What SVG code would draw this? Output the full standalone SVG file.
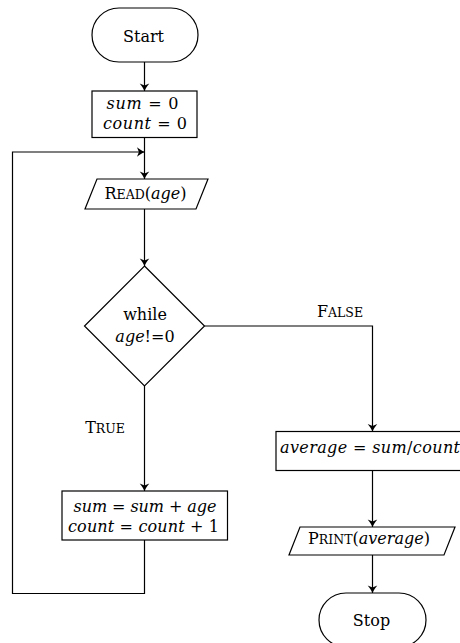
<svg xmlns="http://www.w3.org/2000/svg" width="460" height="643" viewBox="0 0 460 643">
<defs>
<style>
.sh{fill:#fff;stroke:#000;stroke-width:1.2}
.ln{fill:none;stroke:#000;stroke-width:1.2}
text{font-family:"DejaVu Serif","Liberation Serif",serif;font-size:16px;fill:#000;text-anchor:middle}
.i{font-style:italic}
.s{font-size:12.5px}
</style>
<marker id="ah" markerUnits="userSpaceOnUse" markerWidth="12" markerHeight="12" viewBox="-9 -6 10 12" refX="0" refY="0" orient="auto">
<path d="M0,0 C-2.5,-1.2 -5.5,-3 -7.5,-4.8 L-5.6,0 L-7.5,4.8 C-5.5,3 -2.5,1.2 0,0Z" fill="#000"/>
</marker>
</defs>
<g id="connectors">
<line class="ln" x1="144.5" y1="62" x2="144.5" y2="91" marker-end="url(#ah)"/>
<line class="ln" x1="144.5" y1="137.5" x2="144.5" y2="179" marker-end="url(#ah)"/>
<line class="ln" x1="144.5" y1="209" x2="144.5" y2="266" marker-end="url(#ah)"/>
<line class="ln" x1="144.5" y1="386" x2="144.5" y2="491" marker-end="url(#ah)"/>
<polyline class="ln" points="204.5,326 372.5,326 372.5,431.5" marker-end="url(#ah)"/>
<line class="ln" x1="372.5" y1="470.5" x2="372.5" y2="527" marker-end="url(#ah)"/>
<line class="ln" x1="372.5" y1="555" x2="372.5" y2="593" marker-end="url(#ah)"/>
<polyline class="ln" points="144.5,540 144.5,593.5 12.5,593.5 12.5,152 144.5,152" marker-end="url(#ah)"/>
<text x="340" y="316.5">F<tspan class="s">ALSE</tspan></text>
<text x="105" y="432.5">T<tspan class="s">RUE</tspan></text>
</g>
<g id="start">
<rect class="sh" x="92" y="8" width="106" height="54" rx="27" ry="27"/>
<text x="143.5" y="41.5">Start</text>
</g>
<g id="init">
<rect class="sh" x="92" y="91" width="105" height="46.5"/>
<text x="142.5" y="109" textLength="72" lengthAdjust="spacing"><tspan class="i">sum</tspan> = 0</text>
<text x="145" y="128.5" textLength="84" lengthAdjust="spacing"><tspan class="i">count</tspan> = 0</text>
</g>
<g id="read">
<polygon class="sh" points="97,179 208,179 196,209 85,209"/>
<text x="145.5" y="199">R<tspan class="s">EAD</tspan>(<tspan class="i">age</tspan>)</text>
</g>
<g id="decision">
<polygon class="sh" points="144.5,266 204.5,326 144.5,386 84.5,326"/>
<text x="145" y="320">while</text>
<text x="145" y="342"><tspan class="i">age</tspan>!=0</text>
</g>
<g id="update">
<rect class="sh" x="62" y="491" width="165.5" height="49"/>
<text x="145" y="511.5" textLength="143" lengthAdjust="spacing"><tspan class="i">sum</tspan> = <tspan class="i">sum</tspan> + <tspan class="i">age</tspan></text>
<text x="143.5" y="531.5" textLength="151" lengthAdjust="spacing"><tspan class="i">count</tspan> = <tspan class="i">count</tspan> + 1</text>
</g>
<g id="average">
<rect class="sh" x="276" y="431.5" width="193" height="39"/>
<text x="370" y="453" textLength="180" lengthAdjust="spacing"><tspan class="i">average</tspan> = <tspan class="i">sum</tspan>/<tspan class="i">count</tspan></text>
</g>
<g id="print">
<polygon class="sh" points="300,527 455,527 444,555 289,555"/>
<text x="369" y="543.5">P<tspan class="s">RINT</tspan>(<tspan class="i">average</tspan>)</text>
</g>
<g id="stop">
<rect class="sh" x="319" y="593" width="107" height="54" rx="27" ry="27"/>
<text x="371.5" y="625.5">Stop</text>
</g>
</svg>
